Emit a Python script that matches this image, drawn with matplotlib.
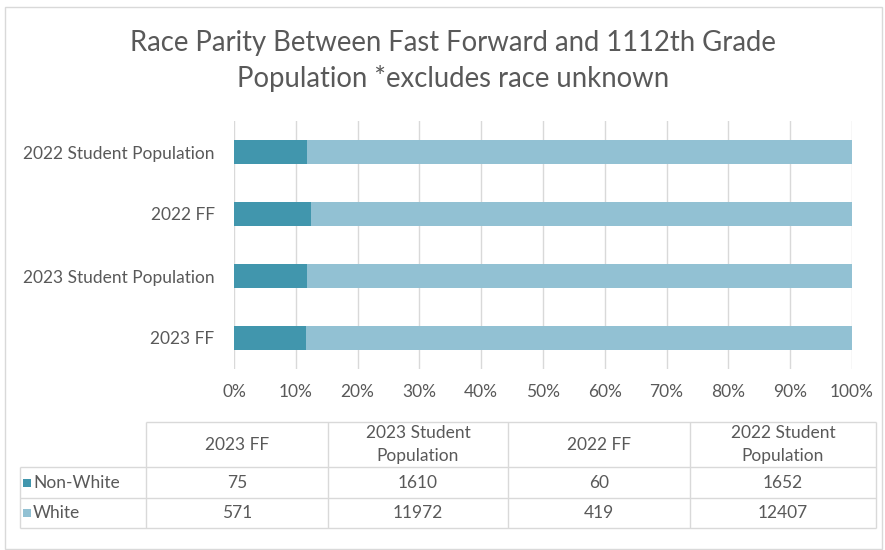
import numpy as np
import matplotlib
matplotlib.use("Agg")
import matplotlib.pyplot as plt
from matplotlib.patches import Rectangle

plt.rcParams["font.family"] = ["Lato", "DejaVu Sans"]

# data (table order; bars drawn bottom -> top)
groups = ["2023 FF", "2023 Student Population", "2022 FF", "2022 Student Population"]
series_names = ["Non-White", "White"]
non_white = [75, 1610, 60, 1652]
white = [571, 11972, 419, 12407]
x_ticks = [0, 10, 20, 30, 40, 50, 60, 70, 80, 90, 100]

C_NONWHITE = "#4196AD"
C_WHITE = "#92C1D3"
C_TEXT = "#595959"
C_GRID = "#D9D9D9"
FS = 12.5

W, H = 885, 550
fig = plt.figure(figsize=(W / 100, H / 100), dpi=100)


def px_box(x0, y0, x1, y1):
    return [x0 / W, 1 - y1 / H, (x1 - x0) / W, (y1 - y0) / H]


# chart frame
fig.add_artist(Rectangle((5 / W, 1 - 549 / H), 877 / W, 542 / H,
                         transform=fig.transFigure, fill=False,
                         ec=C_GRID, lw=1))

fig.text(453 / W, 1 - 61 / H,
         "Race Parity Between Fast Forward and 1112th Grade\nPopulation *excludes race unknown",
         ha="center", va="center", fontsize=19.8, color=C_TEXT,
         linespacing=1.45)

# stacked 100% bars
ax = fig.add_axes(px_box(234, 121, 852, 369))
nw = np.array(non_white, float)
wh = np.array(white, float)
tot = nw + wh
nw_pct = nw / tot * 100
wh_pct = wh / tot * 100
y = np.arange(len(groups))
ax.barh(y, nw_pct, height=0.38, color=C_NONWHITE, zorder=3)
ax.barh(y, wh_pct, left=nw_pct, height=0.38, color=C_WHITE, zorder=3)
ax.set_xlim(0, 100)
ax.set_ylim(-0.5, len(groups) - 0.5)
ax.set_xticks(x_ticks)
ax.set_xticklabels([f"{t}%" for t in x_ticks])
ax.set_yticks(y)
ax.set_yticklabels(groups)
ax.grid(axis="x", color=C_GRID, lw=1, zorder=0)
ax.set_axisbelow(True)
for s in ax.spines.values():
    s.set_visible(False)
ax.tick_params(axis="both", length=0, colors=C_TEXT, labelsize=FS)
ax.tick_params(axis="y", pad=14)
ax.tick_params(axis="x", pad=11)
ax.set_facecolor("none")

# data table, drawn in a pixel-coordinate overlay
tab = fig.add_axes([0, 0, 1, 1])
tab.set_xlim(0, W)
tab.set_ylim(H, 0)
tab.axis("off")
col_w = [126, 182, 180, 182, 186]
row_h = [45, 31, 30]
xe = 20 + np.concatenate([[0], np.cumsum(col_w)])
ye = 422 + np.concatenate([[0], np.cumsum(row_h)])
lk = dict(color=C_GRID, lw=1)
tab.hlines(ye[0], xe[1], xe[-1], **lk)
tab.hlines(ye[1:], xe[0], xe[-1], **lk)
tab.vlines(xe[1:], ye[0], ye[-1], **lk)
tab.vlines(xe[0], ye[1], ye[-1], **lk)

col_labels = [g.replace("Student Population", "Student\nPopulation") for g in groups]
xc = (xe[1:-1] + xe[2:]) / 2
yc = (ye[:-1] + ye[1:]) / 2
for x, lab in zip(xc, col_labels):
    tab.text(x, yc[0], lab, ha="center", va="center", fontsize=FS,
             color=C_TEXT, linespacing=1.5)
for r, (name, vals, col) in enumerate(zip(series_names, [non_white, white],
                                          [C_NONWHITE, C_WHITE])):
    tab.add_patch(Rectangle((xe[0] + 3, yc[r + 1] - 4), 8, 8, color=col, lw=0))
    tab.text(xe[0] + 13, yc[r + 1], name, ha="left", va="center",
             fontsize=FS, color=C_TEXT)
    for x, v in zip(xc, vals):
        tab.text(x, yc[r + 1], str(v), ha="center", va="center",
                 fontsize=FS, color=C_TEXT)

fig.savefig("out.png", dpi=100, facecolor="white")
